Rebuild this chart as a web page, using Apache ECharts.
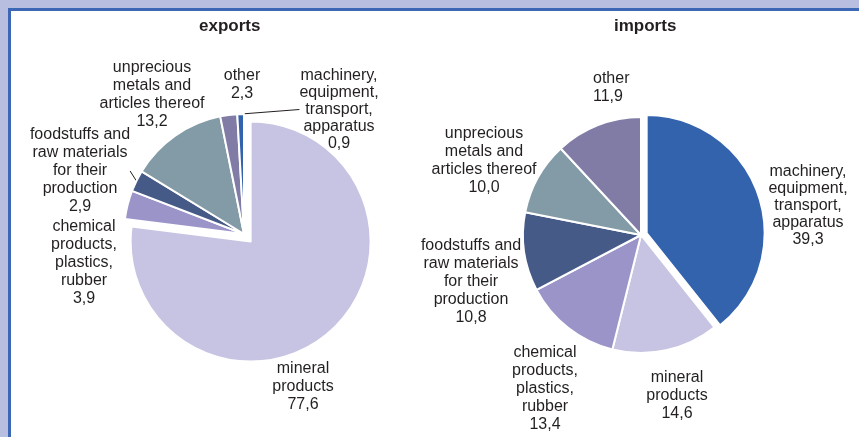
<!DOCTYPE html>
<html>
<head>
<meta charset="utf-8">
<script src="https://cdn.jsdelivr.net/npm/echarts@6/dist/echarts.min.js"></script>
<style>
  html, body { margin: 0; padding: 0; }
  #chart { width: 859px; height: 437px; }
</style>
</head>
<body>
<div id="chart"></div>
<script>
// Commodity structure of foreign trade, per cent
const categories = [
  'machinery,\nequipment,\ntransport,\napparatus',
  'mineral\nproducts',
  'chemical\nproducts,\nplastics,\nrubber',
  'foodstuffs and\nraw materials\nfor their\nproduction',
  'unprecious\nmetals and\narticles thereof',
  'other'
];
const exportsValues = [0.9, 77.6, 3.9, 2.9, 13.2, 2.3];
const importsValues = [39.3, 14.6, 13.4, 10.8, 10.0, 11.9];

// Clockwise drawing order from twelve o'clock
const exportsOrder = [1, 2, 3, 4, 5, 0];
const importsOrder = [0, 1, 2, 3, 4, 5];

const sliceColors = ['#3463ae', '#c6c4e2', '#9b94c8', '#465a87', '#839ba6', '#817ca6'];

// Label anchors (top of text block) for each category, per pie
const labelSpots = [
  [
    { x: 339, y: 67, lh: 17 },
    { x: 303, y: 360 },
    { x: 84, y: 218 },
    { x: 80, y: 126 },
    { x: 152, y: 59 },
    { x: 242, y: 67 }
  ],
  [
    { x: 808, y: 163, lh: 17 },
    { x: 677, y: 369 },
    { x: 545, y: 344 },
    { x: 471, y: 237 },
    { x: 484, y: 125 },
    { x: 593, y: 70, align: 'left' }
  ]
];

const pies = [
  { name: 'exports', values: exportsValues, order: exportsOrder, center: [244, 234], radius: 120,
    exploded: 1, explode: 10, leaders: [0, 3] },
  { name: 'imports', values: importsValues, order: importsOrder, center: [641, 235], radius: 118,
    exploded: 0, explode: 6, leaders: [] }
];

const fmt = v => v.toFixed(1).replace('.', ',');
const textColor = '#231f20';
const fontFamily = '"Liberation Sans", Arial, sans-serif';
const hidden = 'rgba(0,0,0,0)';

// Direction of the exploded slice: middle of its arc, measured clockwise from 12 o'clock
function explodeShift(pie) {
  const total = pie.values.reduce((a, b) => a + b, 0);
  let acc = 0;
  for (const ci of pie.order) {
    if (ci === pie.exploded) {
      const mid = (90 - (acc + pie.values[ci] / 2) / total * 360) * Math.PI / 180;
      return [pie.explode * Math.cos(mid), -pie.explode * Math.sin(mid)];
    }
    acc += pie.values[ci];
  }
  return [0, 0];
}

function mainSeries(pi) {
  const pie = pies[pi];
  const data = pie.order.map(ci => ({
    name: categories[ci],
    value: pie.values[ci],
    cat: ci,
    itemStyle: ci === pie.exploded
      ? { color: hidden, borderWidth: 0 }
      : { color: sliceColors[ci] },
    label: { lineHeight: labelSpots[pi][ci].lh || 18 },
    labelLine: { show: pie.leaders.indexOf(ci) >= 0 }
  }));
  return {
    type: 'pie',
    name: pie.name,
    center: pie.center,
    radius: pie.radius,
    startAngle: 90,
    clockwise: true,
    avoidLabelOverlap: false,
    silent: true,
    z: 3,
    itemStyle: { borderColor: '#ffffff', borderWidth: 2 },
    label: {
      show: true,
      position: 'outside',
      color: textColor,
      fontFamily: fontFamily,
      fontSize: 16,
      lineHeight: 18,
      formatter: p => p.name + '\n' + fmt(p.value)
    },
    labelLine: {
      show: false,
      length: 6,
      length2: 0,
      lineStyle: { color: textColor, width: 1 }
    },
    labelLayout: params => {
      const spot = labelSpots[pi][data[params.dataIndex].cat];
      return { x: spot.x, y: spot.y, align: spot.align || 'center', verticalAlign: 'top' };
    },
    emphasis: { disabled: true },
    data: data
  };
}

// The pulled-out slice, drawn on its own with a shifted centre
function explodedSeries(pi) {
  const pie = pies[pi];
  const shift = explodeShift(pie);
  return {
    type: 'pie',
    name: pie.name + '-out',
    center: [pie.center[0] + shift[0], pie.center[1] + shift[1]],
    radius: pie.radius,
    startAngle: 90,
    clockwise: true,
    silent: true,
    z: 2,
    label: { show: false },
    labelLine: { show: false },
    emphasis: { disabled: true },
    data: pie.order.map(ci => ({
      name: categories[ci],
      value: pie.values[ci],
      itemStyle: ci === pie.exploded
        ? { color: sliceColors[ci], borderColor: '#ffffff', borderWidth: 2 }
        : { color: hidden, borderWidth: 0 }
    }))
  };
}

const chart = echarts.init(document.getElementById('chart'), null, { renderer: 'canvas' });
chart.setOption({
  backgroundColor: '#b8bee0',
  animation: false,
  graphic: [{
    type: 'rect',
    z: 0,
    silent: true,
    shape: { x: 9.5, y: 9.5, width: 900, height: 480 },
    style: { fill: '#ffffff', stroke: '#3b67b5', lineWidth: 3 }
  }],
  title: [
    { text: 'exports', left: 199, top: 18, padding: 0,
      textStyle: { fontFamily: fontFamily, fontSize: 17, fontWeight: 'bold', color: textColor } },
    { text: 'imports', left: 614, top: 18, padding: 0,
      textStyle: { fontFamily: fontFamily, fontSize: 17, fontWeight: 'bold', color: textColor } }
  ],
  series: [explodedSeries(0), mainSeries(0), explodedSeries(1), mainSeries(1)]
});
</script>
</body>
</html>
